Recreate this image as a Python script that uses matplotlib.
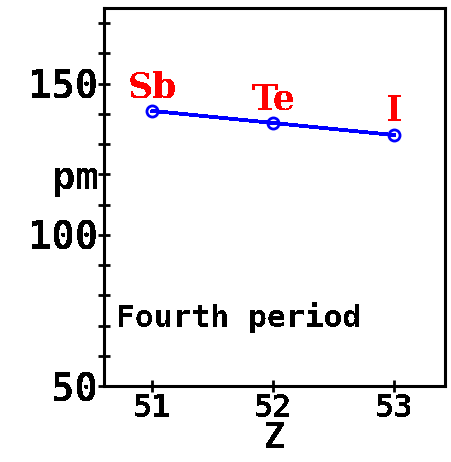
import matplotlib
matplotlib.use("Agg")
import matplotlib.pyplot as plt

# covalent radii of the period elements
z = [51, 52, 53]
radius_pm = [141, 137, 133]
symbols = ["Sb", "Te", "I"]

y_ticks = [50, 60, 70, 80, 90, 100, 110, 120, 130, 140, 150, 160, 170]
y_tick_labels = ["50", "", "", "", "", "100", "", "pm", "", "", "150", "", ""]
x_ticks = [51, 52, 53]

plt.rcParams["text.antialiased"] = False
plt.rcParams["lines.antialiased"] = False

fig = plt.figure(figsize=(4.52, 4.62), dpi=100)
ax = fig.add_axes([0.230, 0.1645, 0.7545, 0.818])

ax.plot(z, radius_pm, color="blue", lw=2, marker="o", ms=8,
        mfc="none", mec="blue", mew=2)

for xi, yi, s in zip(z, radius_pm, symbols):
    ax.annotate(s, (xi, yi), xytext=(0, 17), textcoords="offset points",
                ha="center", va="center", color="red", fontsize=25,
                fontfamily="DejaVu Serif", fontweight="bold")

ax.text(50.70, 72.5, "Fourth period", fontsize=22.5, fontfamily="DejaVu Sans Mono",
        fontweight="bold", va="center", ha="left")

ax.set_xlim(50.6, 53.42)
ax.set_ylim(50, 175)
ax.set_xticks(x_ticks)
ax.set_xticklabels([str(t) for t in x_ticks])
ax.set_yticks(y_ticks)
ax.set_yticklabels(y_tick_labels)

for sp in ax.spines.values():
    sp.set_linewidth(2.2)

ax.tick_params(axis="both", direction="inout", length=8, width=2, pad=1)
ax.tick_params(axis="x", labelsize=23)
ax.tick_params(axis="y", labelsize=28, pad=0)
for lab in ax.get_xticklabels() + ax.get_yticklabels():
    lab.set_fontfamily("DejaVu Sans Mono")
    lab.set_fontweight("bold")

ax.set_xlabel("Z", fontsize=25, fontfamily="DejaVu Sans Mono",
              fontweight="bold", labelpad=-2)

fig.savefig("out.png", dpi=100)
